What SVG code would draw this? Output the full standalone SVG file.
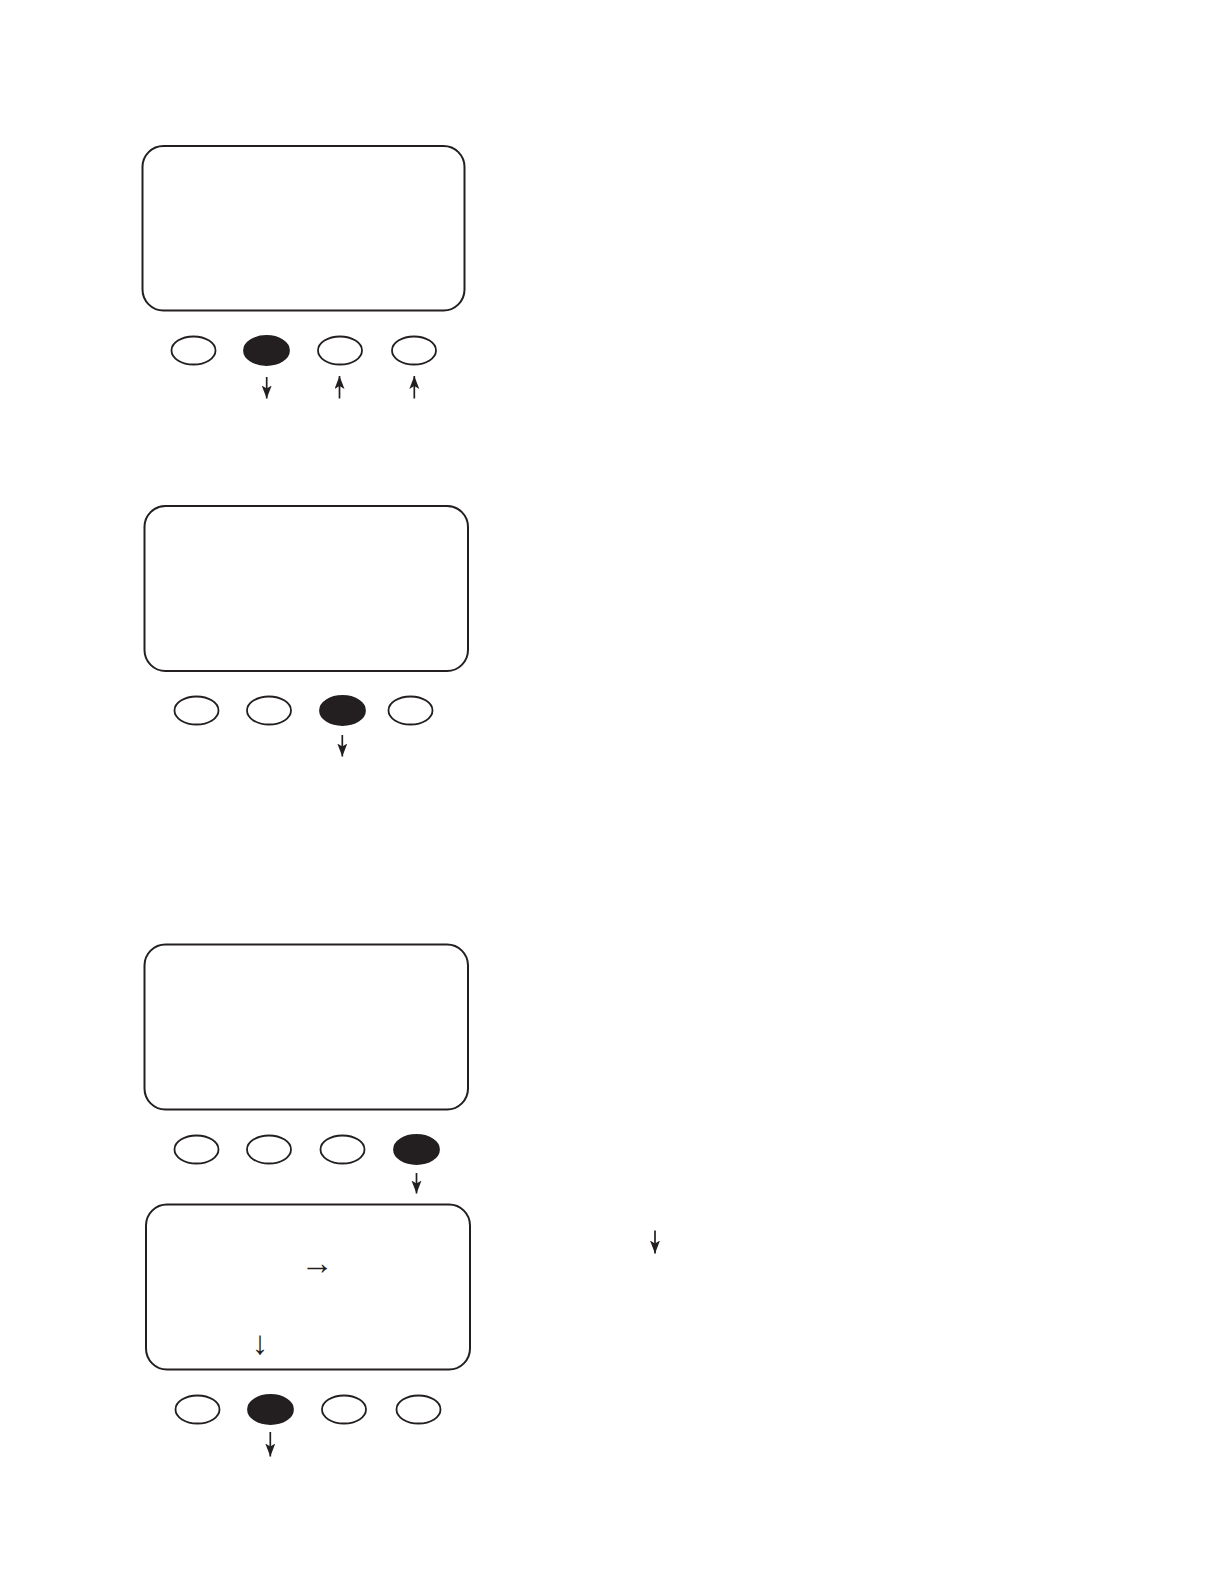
<svg xmlns="http://www.w3.org/2000/svg" width="1224" height="1584" viewBox="0 0 1224 1584">
<style>
.screen{fill:#fff;stroke:#231f20;stroke-width:2}
.btn{fill:#fff;stroke:#231f20;stroke-width:1.8}
.btn.on{fill:#231f20}
.arr{fill:none;stroke:#231f20;stroke-width:1.7;marker-end:url(#head)}
.glyph{font-family:"Liberation Sans","DejaVu Sans",sans-serif;fill:#231f20;text-anchor:middle;font-size:33px}
</style>
<defs>
<marker id="head" markerUnits="userSpaceOnUse" markerWidth="14" markerHeight="12" refX="13" refY="5" orient="auto">
<path d="M0,0 L13,5 L0,10 L3,5 z" fill="#231f20"/>
</marker>
</defs>
<rect width="1224" height="1584" fill="#fff"/>

<g id="panel1">
<rect class="screen" x="142.5" y="146" width="322" height="164.5" rx="21"/>
<ellipse class="btn" cx="193.5" cy="350.5" rx="22" ry="14"/>
<ellipse class="btn on" cx="266.5" cy="350.5" rx="22.5" ry="14.5"/>
<ellipse class="btn" cx="340" cy="350.5" rx="22" ry="14"/>
<ellipse class="btn" cx="414" cy="350.5" rx="22" ry="14"/>
</g>

<g id="panel2">
<rect class="screen" x="144.5" y="506" width="323.5" height="165" rx="21"/>
<ellipse class="btn" cx="196.5" cy="710.5" rx="22" ry="14"/>
<ellipse class="btn" cx="269" cy="710.5" rx="22" ry="14"/>
<ellipse class="btn on" cx="342.5" cy="710.5" rx="22.5" ry="14.5"/>
<ellipse class="btn" cx="410.5" cy="710.5" rx="22" ry="14"/>
</g>

<g id="panel3">
<rect class="screen" x="144.5" y="944.5" width="323.5" height="165" rx="21"/>
<ellipse class="btn" cx="196.5" cy="1149.5" rx="22" ry="14"/>
<ellipse class="btn" cx="269" cy="1149.5" rx="22" ry="14"/>
<ellipse class="btn" cx="342.5" cy="1149.5" rx="22" ry="14"/>
<ellipse class="btn on" cx="416.5" cy="1149.5" rx="22.5" ry="14.5"/>
</g>

<g id="panel4">
<rect class="screen" x="146" y="1204.5" width="324" height="165" rx="21"/>
<text class="glyph" x="317" y="1274">→</text>
<text class="glyph" x="260" y="1354">↓</text>
<ellipse class="btn" cx="197.5" cy="1409.5" rx="22" ry="14"/>
<ellipse class="btn on" cx="270.5" cy="1409.5" rx="22.5" ry="14.5"/>
<ellipse class="btn" cx="344" cy="1409.5" rx="22" ry="14"/>
<ellipse class="btn" cx="418.5" cy="1409.5" rx="22" ry="14"/>
</g>

<g id="connectors">
<line class="arr" x1="266.7" y1="377" x2="266.7" y2="398.5"/>
<line class="arr" x1="339.5" y1="398.5" x2="339.5" y2="376"/>
<line class="arr" x1="414.3" y1="398.5" x2="414.3" y2="376"/>
<line class="arr" x1="342.3" y1="735" x2="342.3" y2="756.5"/>
<line class="arr" x1="416.5" y1="1173" x2="416.5" y2="1193.5"/>
<line class="arr" x1="270.3" y1="1432" x2="270.3" y2="1456.5"/>
<line class="arr" x1="655" y1="1230.5" x2="655" y2="1253.5"/>
</g>
</svg>
